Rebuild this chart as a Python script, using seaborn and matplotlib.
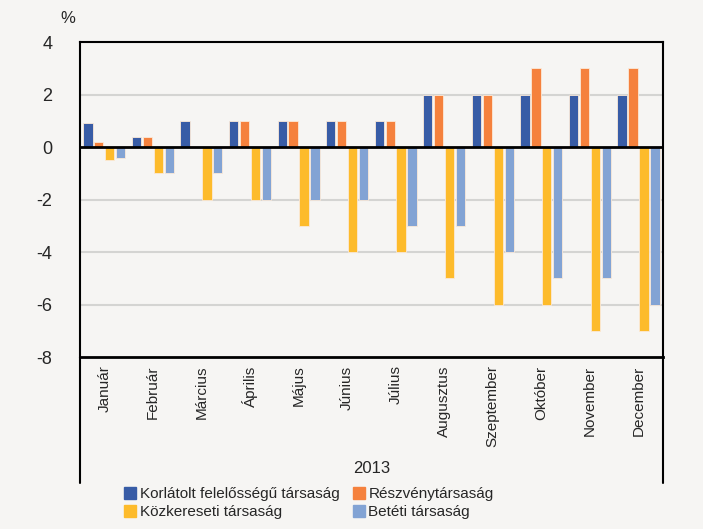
import pandas as pd
import numpy as np
import matplotlib.pyplot as plt
import seaborn as sns
from matplotlib.lines import Line2D

months = ['Január', 'Február', 'Március', 'Április', 'Május', 'Június',
          'Július', 'Augusztus', 'Szeptember', 'Október', 'November', 'December']
types = ['Korlátolt felelősségű társaság', 'Részvénytársaság',
         'Közkereseti társaság', 'Betéti társaság']
kft = [0.9, 0.4, 1, 1, 1, 1, 1, 2, 2, 2, 2, 2]
rt = [0.2, 0.4, 0, 1, 1, 1, 1, 2, 2, 3, 3, 3]
kkt = [-0.5, -1, -2, -2, -3, -4, -4, -5, -6, -6, -7, -7]
bt = [-0.4, -1, -1, -2, -2, -2, -3, -3, -4, -5, -5, -6]
colors = ['#385ca6', '#f5813d', '#fdbb2b', '#82a3d4']

df = pd.DataFrame({'month': months * 4,
                   'type': np.repeat(types, 12),
                   'value': kft + rt + kkt + bt})

sns.set_style('white')
plt.rcParams['font.family'] = ['Liberation Sans Narrow', 'Liberation Sans', 'DejaVu Sans']
bg = '#f6f5f3'

fig = plt.figure(figsize=(7.03, 5.29), dpi=100, facecolor=bg)
ax = fig.add_axes([0.1138, 0.325, 0.829, 0.5956])
ax.set_facecolor(bg)

sns.barplot(data=df, x='month', y='value', hue='type', palette=colors,
            saturation=1, width=0.9, gap=0.15, edgecolor='#fbe9d8', linewidth=0.6,
            ax=ax, legend=False, zorder=3)

ax.set_ylim(-8, 4)
ax.set_xlim(-0.5, 11.5)
ax.set_yticks([-8, -6, -4, -2, 0, 2, 4])
ax.set_yticklabels(['-8', '-6', '-4', '-2', '0', '2', '4'], fontsize=13)
for y in [-6, -4, -2, 2]:
    ax.axhline(y, color='#d4d4d2', lw=1.5, zorder=1)
ax.axhline(0, color='black', lw=2, zorder=4)
for s in ax.spines.values():
    s.set_color('black')
    s.set_linewidth(1.5)
ax.spines['bottom'].set_linewidth(2)
ax.tick_params(axis='y', length=0, pad=20)
ax.tick_params(axis='x', length=0, pad=6)
ax.set_xticks(range(12))
ax.set_xticklabels(months, rotation=90, fontsize=11)
ax.set_xlabel('')
ax.set_ylabel('')

# year box below axis
for x in [0, 1]:
    ax.add_line(Line2D([x, x], [0, -0.40], transform=ax.transAxes,
                       color='black', lw=1.5, clip_on=False))
ax.text(0.5, -0.355, '2013', transform=ax.transAxes, ha='center', va='center', fontsize=12)
fig.text(0.097, 0.965, '%', fontsize=12, ha='center', va='center')

# legend rows: Kft | Rt, then Kkt | Bt
order = [0, 2, 1, 3]
handles = [Line2D([], [], marker='s', ls='', color=colors[i], markersize=8) for i in order]
labels = [types[i] for i in order]
fig.legend(handles, labels, ncol=2, loc='lower left', bbox_to_anchor=(0.155, -0.008),
           frameon=False, fontsize=11, handletextpad=0.1, columnspacing=0.8,
           labelspacing=0.3, handlelength=1)

fig.savefig('out.png', dpi=100, facecolor=bg)
